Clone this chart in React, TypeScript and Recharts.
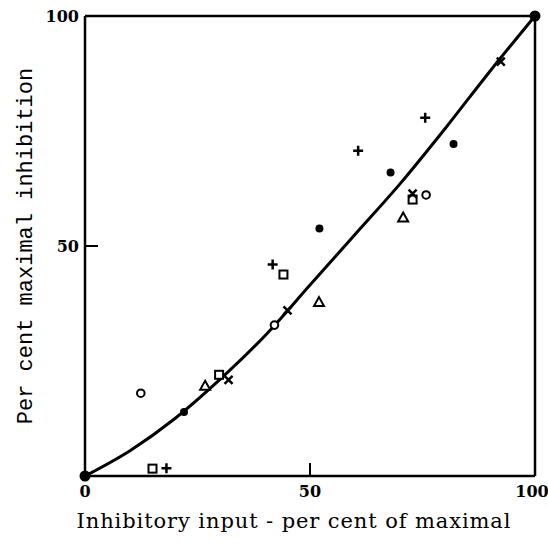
import React from 'react';
import { ComposedChart, Line, Scatter, XAxis, YAxis, ReferenceLine } from 'recharts';

const xTicks = [0, 50, 100];
const yTicks = [0, 50, 100];
const yTickLabels: Record<number, string> = { 0: '', 50: '50', 100: '100' };
const xTitle = 'Inhibitory input - per cent of maximal';
const yTitle = 'Per cent maximal inhibition';
const curve = [
  { x: 0, y: 0 }, { x: 10, y: 5.5 }, { x: 20, y: 12.5 }, { x: 30, y: 21 }, { x: 40, y: 30.5 },
  { x: 50, y: 41.5 }, { x: 60, y: 52.5 }, { x: 70, y: 63.5 }, { x: 80, y: 75.5 }, { x: 90, y: 88 }, { x: 100, y: 100 },
];
const endpoints = [{ x: 0, y: 0 }, { x: 100, y: 100 }];
const filledDots = [{ x: 22, y: 13.9 }, { x: 52.1, y: 53.8 }, { x: 67.9, y: 66 }, { x: 81.9, y: 72.2 }];
const openCircles = [{ x: 12.4, y: 18 }, { x: 42.1, y: 32.8 }, { x: 75.8, y: 61.1 }];
const squares = [{ x: 15, y: 1.6 }, { x: 29.8, y: 22 }, { x: 44.1, y: 43.8 }, { x: 72.8, y: 60.1 }];
const triangles = [{ x: 26.7, y: 19.6 }, { x: 52, y: 37.8 }, { x: 70.7, y: 56.2 }];
const pluses = [{ x: 18.1, y: 1.7 }, { x: 41.7, y: 46 }, { x: 60.7, y: 70.7 }, { x: 75.6, y: 77.9 }];
const crosses = [{ x: 31.9, y: 20.9 }, { x: 45, y: 36 }, { x: 72.8, y: 61.4 }, { x: 92.4, y: 90.1 }];

const FONT = '"DejaVu Serif", serif';
const MONO = '"Liberation Mono", "DejaVu Sans Mono", monospace';

const Big = (p: any) => <circle cx={p.cx} cy={p.cy} r={5.5} fill="#000" />;
const Dot = (p: any) => <circle cx={p.cx} cy={p.cy} r={4} fill="#000" />;
const Ring = (p: any) => <circle cx={p.cx} cy={p.cy} r={3.8} fill="#fff" stroke="#000" strokeWidth={2} />;
const Sq = (p: any) => <rect x={p.cx - 4} y={p.cy - 4} width={8} height={8} fill="#fff" stroke="#000" strokeWidth={2} />;
const Tri = (p: any) => (
  <path d={`M${p.cx},${p.cy - 5} L${p.cx + 5},${p.cy + 4} L${p.cx - 5},${p.cy + 4} Z`} fill="#fff" stroke="#000" strokeWidth={2} />
);
const Plus = (p: any) => (
  <path d={`M${p.cx - 5},${p.cy} L${p.cx + 5},${p.cy} M${p.cx},${p.cy - 5} L${p.cx},${p.cy + 5}`} stroke="#000" strokeWidth={2.5} />
);
const Cross = (p: any) => (
  <path d={`M${p.cx - 4},${p.cy - 4} L${p.cx + 4},${p.cy + 4} M${p.cx + 4},${p.cy - 4} L${p.cx - 4},${p.cy + 4}`} stroke="#000" strokeWidth={2.5} />
);

const XTick = (p: any) => {
  const { x, payload } = p;
  const dx = payload.value === 100 ? -3 : 0;
  return (
    <g>
      {payload.value === 50 && <line x1={x} x2={x} y1={476} y2={463} stroke="#000" strokeWidth={2} />}
      <text x={x + dx} y={497} textAnchor="middle" fontFamily={FONT} fontSize={16} fontWeight="bold" fill="#000">
        {payload.value}
      </text>
    </g>
  );
};
const YTick = (p: any) => {
  const { y, payload } = p;
  return (
    <g>
      {payload.value === 50 && <line x1={85} x2={98} y1={y} y2={y} stroke="#000" strokeWidth={2} />}
      <text x={79} y={y + 6} textAnchor="end" fontFamily={FONT} fontSize={16} fontWeight="bold" fill="#000">
        {yTickLabels[payload.value]}
      </text>
    </g>
  );
};

const XTitle = () => (
  <text x={294} y={528} textAnchor="middle" fontFamily={FONT} fontSize={21} letterSpacing={0.9} fill="#000">
    {xTitle}
  </text>
);
const YTitle = () => (
  <text x={0} y={0} transform="translate(32,246) rotate(-90)" textAnchor="middle" fontFamily={MONO} fontSize={22} fill="#000">
    {yTitle}
  </text>
);

export default function App() {
  return (
    <div style={{ position: 'absolute', left: 0, top: 0, width: 548, height: 543, background: '#fff' }}>
      <ComposedChart width={548} height={543} margin={{ top: 16, right: 13, left: 0, bottom: 0 }}>
        <XAxis
          type="number" dataKey="x" domain={[0, 100]} ticks={xTicks} height={67}
          axisLine={{ stroke: '#000', strokeWidth: 2.5 }} tickLine={false} tick={<XTick />}
          label={<XTitle />}
        />
        <YAxis
          type="number" dataKey="y" domain={[0, 100]} ticks={yTicks} width={85}
          axisLine={{ stroke: '#000', strokeWidth: 2.5 }} tickLine={false} tick={<YTick />}
          label={<YTitle />}
        />
        <ReferenceLine y={100} stroke="#000" strokeWidth={2.5} />
        <ReferenceLine x={100} stroke="#000" strokeWidth={2.5} />
        <Line data={curve} dataKey="y" type="monotone" stroke="#000" strokeWidth={3} dot={false} isAnimationActive={false} />
        <Scatter data={endpoints} dataKey="y" shape={<Big />} isAnimationActive={false} />
        <Scatter data={filledDots} dataKey="y" shape={<Dot />} isAnimationActive={false} />
        <Scatter data={openCircles} dataKey="y" shape={<Ring />} isAnimationActive={false} />
        <Scatter data={squares} dataKey="y" shape={<Sq />} isAnimationActive={false} />
        <Scatter data={triangles} dataKey="y" shape={<Tri />} isAnimationActive={false} />
        <Scatter data={pluses} dataKey="y" shape={<Plus />} isAnimationActive={false} />
        <Scatter data={crosses} dataKey="y" shape={<Cross />} isAnimationActive={false} />
      </ComposedChart>
    </div>
  );
}
